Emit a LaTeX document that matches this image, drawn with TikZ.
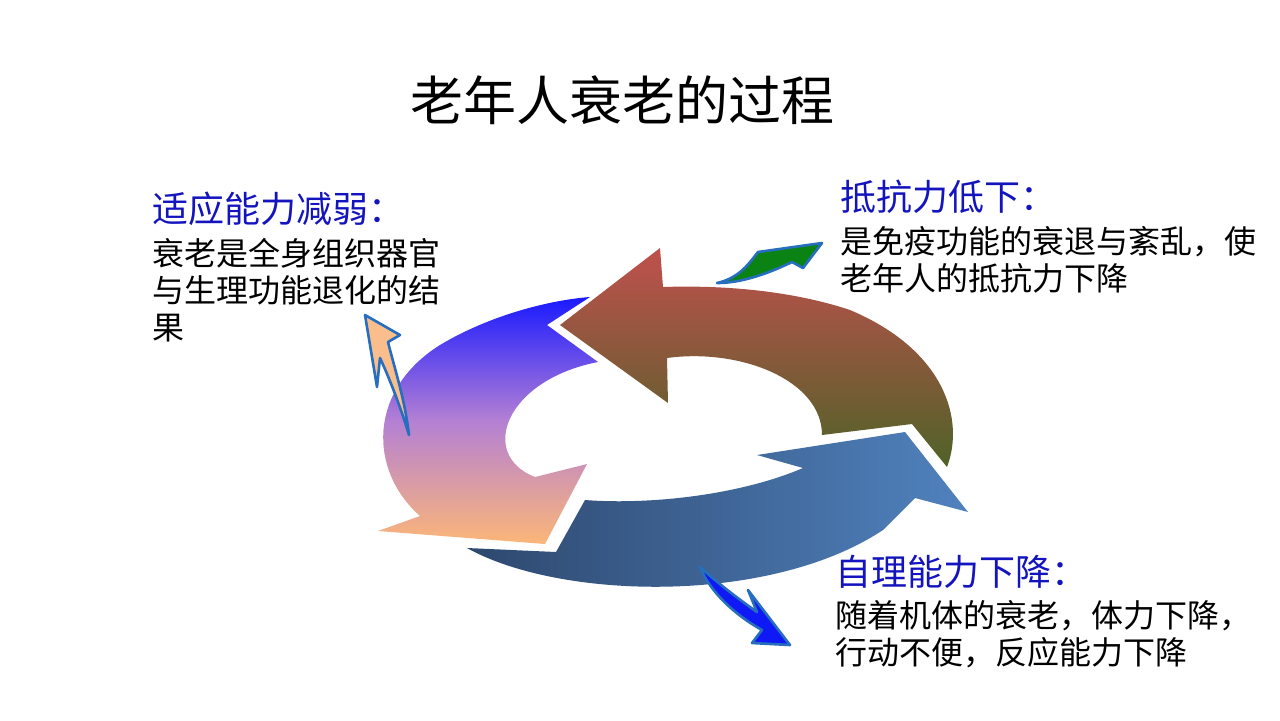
\documentclass[tikz,border=0pt]{standalone}
\usepackage{fontspec}
\setmainfont{Noto Sans CJK SC}
\usepackage{xcolor}
\usetikzlibrary{positioning}

\definecolor{headblue}{RGB}{20,20,190}
\definecolor{redtop}{RGB}{192,80,77}
\definecolor{redbot}{RGB}{79,98,40}
\definecolor{violettop}{RGB}{25,25,255}
\definecolor{violetmid}{RGB}{180,128,212}
\definecolor{violetbot}{RGB}{252,182,120}
\definecolor{blueleft}{RGB}{46,72,110}
\definecolor{blueright}{RGB}{80,130,190}
\definecolor{calloutline}{RGB}{40,110,190}
\definecolor{calloutgreen}{RGB}{10,130,20}
\definecolor{calloutpeach}{RGB}{250,190,140}
\definecolor{calloutblue}{RGB}{15,25,245}

\begin{document}
\begin{tikzpicture}[
    x=0.5pt, y=-0.5pt,
    every node/.style={inner sep=0pt},
    title/.style={font=\fontsize{26.5}{30}\selectfont},
    heading/.style={font=\fontsize{18}{22}\selectfont, text=headblue, anchor=base west},
    body/.style={font=\fontsize{16}{18.5}\selectfont, align=left},
    ringred/.style={top color=redtop, bottom color=redbot},
    ringviolet/.style={top color=violettop, bottom color=violetbot, middle color=violetmid},
    ringblue/.style={left color=blueleft, right color=blueright},
    callout/.style={draw=calloutline, line width=1.3pt, line join=round}
]
    \useasboundingbox (0,0) rectangle (1280,720);

    \node[title] (title) at (622,100) {老年人衰老的过程};

    % ring of three arrows
    \path[ringviolet] (590,297) -- (547,325) -- (598,362)
        .. controls (505,380) and (478,455) .. (535,477)
        -- (587,464) -- (545,544) -- (378,531) -- (420,516)
        .. controls (368,470) and (368,390) .. (440,345)
        .. controls (490,315) and (550,300) .. (590,297) -- cycle;
    \path[ringblue] (585,500) -- (556,552) -- (467,548)
        .. controls (560,600) and (770,605) .. (883,530)
        -- (915,498) -- (968,512) -- (905,432) -- (757,455) -- (803,468)
        .. controls (740,495) and (650,505) .. (585,500) -- cycle;
    \path[ringred] (660,248) -- (560,325) -- (668,403) -- (667,358)
        .. controls (740,348) and (822,380) .. (822,435)
        -- (912,424) -- (947,467)
        .. controls (965,420) and (945,350) .. (850,310)
        .. controls (790,290) and (720,285) .. (663,287) -- cycle;

    % small arrows
    \path[callout, fill=calloutgreen] (717,283)
        .. controls (740,278) and (750,262) .. (758,252)
        -- (822,243) -- (803,268) -- (792,262)
        .. controls (765,275) and (740,283) .. (717,283) -- cycle;
    \path[callout, fill=calloutpeach] (365,315) -- (400,335) -- (388,342)
        .. controls (395,370) and (405,400) .. (409,435)
        .. controls (400,405) and (388,375) .. (380,358)
        -- (377,387) -- cycle;
    \path[callout, fill=calloutblue] (700,567)
        .. controls (720,585) and (740,600) .. (757,612)
        -- (748,590) -- (790,645) -- (752,643) -- (762,630)
        .. controls (735,615) and (710,592) .. (700,567) -- cycle;

    % texts
    \node[heading] (adapthead) at (152,222) {适应能力减弱：};
    \node[body, below right=6pt and 0pt of adapthead.south west] (adaptbody)
        {衰老是全身组织器官\\与生理功能退化的结\\果};
    \node[heading] (resisthead) at (840,210) {抵抗力低下：};
    \node[body, below right=6pt and 0pt of resisthead.south west] (resistbody)
        {是免疫功能的衰退与紊乱，使\\老年人的抵抗力下降};
    \node[heading] (selfhead) at (835,585) {自理能力下降：};
    \node[body, below right=6pt and 0pt of selfhead.south west] (selfbody)
        {随着机体的衰老，体力下降，\\行动不便，反应能力下降};
\end{tikzpicture}
\end{document}
